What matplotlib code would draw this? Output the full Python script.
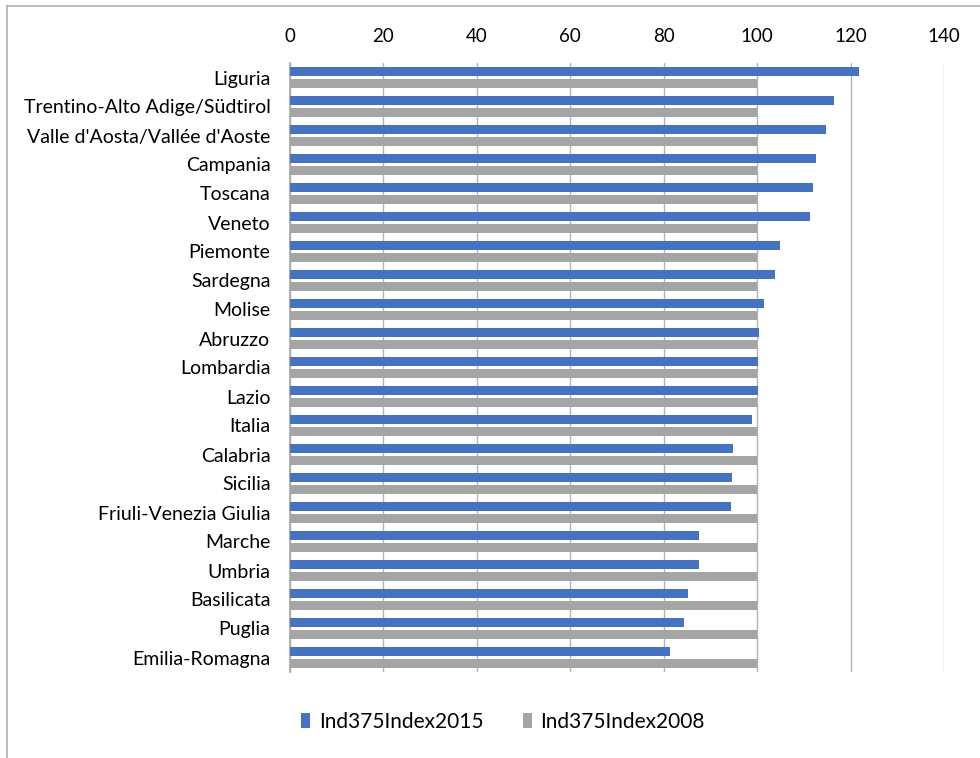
import matplotlib
matplotlib.use("Agg")
import matplotlib.pyplot as plt
import numpy as np
from matplotlib.lines import Line2D
from matplotlib.patches import Patch

regions = ["Liguria", "Trentino-Alto Adige/Südtirol", "Valle d'Aosta/Vallée d'Aoste",
           "Campania", "Toscana", "Veneto", "Piemonte", "Sardegna", "Molise", "Abruzzo",
           "Lombardia", "Lazio", "Italia", "Calabria", "Sicilia", "Friuli-Venezia Giulia",
           "Marche", "Umbria", "Basilicata", "Puglia", "Emilia-Romagna"]
index2015 = [121.7, 116.5, 114.7, 112.5, 111.9, 111.3, 104.8, 103.8, 101.4, 100.4,
             100.2, 100.1, 98.8, 94.8, 94.6, 94.3, 87.6, 87.5, 85.1, 84.3, 81.4]
index2008 = [100.0] * 21
series_names = ["Ind375Index2015", "Ind375Index2008"]
xticks = [0, 20, 40, 60, 80, 100, 120, 140]

plt.rcParams['font.family'] = ['Lato', 'DejaVu Sans']

fig = plt.figure(figsize=(9.8, 7.58), dpi=100)
ax = fig.add_axes([290/980, 1-672/758, (944-290)/980, (672-63)/758])

y = np.arange(len(regions))
h = 0.31
off = 0.207
c1, c2 = '#4472C4', '#A5A5A5'
ax.barh(y - off, index2015, height=h, color=c1, zorder=3)
ax.barh(y + off, index2008, height=h, color=c2, zorder=3)

ax.set_ylim(len(regions) - 0.5, -0.5)
ax.set_xlim(0, 140)
ax.set_xticks(xticks)
ax.xaxis.tick_top()
ax.tick_params(axis='x', length=0, pad=13, labelsize=13.5, colors='#000000')
ax.set_yticks(y)
ax.set_yticklabels(regions)
ax.tick_params(axis='y', length=0, pad=14, labelsize=14)
ax.grid(axis='x', color='#b4b4b4', linewidth=1, zorder=0)
ax.grid(axis='y', visible=False)
for s in ['top', 'right', 'bottom']:
    ax.spines[s].set_visible(False)
ax.spines['left'].set_color('#a6a6a6')
ax.spines['left'].set_linewidth(1.2)

handles = [Patch(facecolor=c1), Patch(facecolor=c2)]
fig.legend(handles, series_names, loc='center', bbox_to_anchor=(503/980, 1-722/758),
           ncol=2, frameon=False, fontsize=15, handlelength=0.45, handleheight=0.75,
           handletextpad=0.4, columnspacing=1.9)

# outer chart frame (left and top edges visible)
fig.add_artist(Line2D([7/980, 7/980], [0, 1-6/758], transform=fig.transFigure, color='#b0b0b0', lw=1.2))
fig.add_artist(Line2D([7/980, 1], [1-6/758, 1-6/758], transform=fig.transFigure, color='#b0b0b0', lw=1.2))

fig.savefig('out.png', dpi=100)
